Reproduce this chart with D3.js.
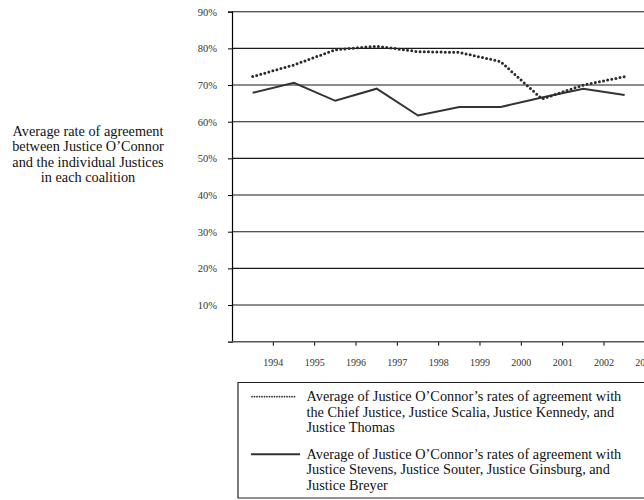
<!DOCTYPE html>
<html>
<head>
<meta charset="utf-8">
<script src="https://cdn.jsdelivr.net/npm/d3@7/dist/d3.min.js"></script>
<style>
  html, body { margin: 0; padding: 0; background: #fff; }
  svg { display: block; font-family: "Liberation Serif", "DejaVu Serif", serif; }
</style>
</head>
<body>
<svg id="chart" width="644" height="500"></svg>
<script>
const years = ["1994","1995","1996","1997","1998","1999","2000","2001","2002","2003"];
const conservative = [72.3, 75.5, 79.6, 80.6, 79.1, 78.9, 76.4, 66.2, 70.0, 72.3];
const liberal = [67.9, 70.6, 65.7, 69.0, 61.7, 64.0, 64.0, 66.6, 69.0, 67.3];
const yTicks = [10, 20, 30, 40, 50, 60, 70, 80, 90];
const titleLines = ["Average rate of agreement", "between Justice O\u2019Connor", "and the individual Justices", "in each coalition"];
const legendConservative = ["Average of Justice O\u2019Connor\u2019s rates of agreement with", "the Chief Justice, Justice Scalia, Justice Kennedy, and", "Justice Thomas"];
const legendLiberal = ["Average of Justice O\u2019Connor\u2019s rates of agreement with", "Justice Stevens, Justice Souter, Justice Ginsburg, and", "Justice Breyer"];

(function () {
const svg = d3.select("#chart");
const pl = 232, pr = 645.3, pt = 11.7, pb = 341.7;

const x = d3.scaleBand().domain(years).range([pl, pr]).paddingInner(0).paddingOuter(0);
const y = d3.scaleLinear().domain([0, 90]).range([pb, pt]);

// fit a text block's font size so its first line has the given width
function fit(textSel, targetWidth, base) {
  textSel.attr("font-size", base);
  const w = textSel.select("tspan").node().getComputedTextLength();
  textSel.attr("font-size", base * targetWidth / w);
}

// gridlines
svg.append("g").selectAll("line").data(yTicks).join("line")
  .attr("x1", pl).attr("x2", 644)
  .attr("y1", d => y(d)).attr("y2", d => y(d))
  .attr("stroke", "#1a1a1a").attr("stroke-width", 1.1);

// y axis
const yAxis = svg.append("g").attr("transform", `translate(${pl},0)`)
  .call(d3.axisLeft(y).tickValues(yTicks).tickSize(4).tickPadding(11).tickFormat(d => d + "%"));
yAxis.select(".domain").attr("stroke", "#000").attr("stroke-width", 1.2);
yAxis.selectAll(".tick line").attr("stroke", "#000");
yAxis.selectAll("text").attr("font-size", 10.5).attr("fill", "#333")
  .attr("font-family", "Liberation Serif, serif");

// x axis (labels at band boundaries)
const xAxis = svg.append("g").attr("transform", `translate(${x.bandwidth()/2},${pb})`)
  .call(d3.axisBottom(x).tickSize(4).tickSizeOuter(0).tickPadding(13));
xAxis.select(".domain").remove();
xAxis.selectAll(".tick line").attr("stroke", "#000");
xAxis.selectAll("text").attr("font-size", 10).attr("fill", "#333")
  .attr("font-family", "Liberation Serif, serif");
svg.append("line").attr("x1", pl).attr("x2", 644).attr("y1", pb).attr("y2", pb)
  .attr("stroke", "#555").attr("stroke-width", 1.6);

// lines
const cx = (d, i) => x(years[i]) + x.bandwidth() / 2;
const lineGen = d3.line().x(cx).y(d => y(d));
svg.append("path").datum(liberal).attr("d", lineGen)
  .attr("fill", "none").attr("stroke", "#333").attr("stroke-width", 2).attr("stroke-linejoin", "miter");
svg.append("path").datum(conservative).attr("d", lineGen)
  .attr("fill", "none").attr("stroke", "#2a2a2a").attr("stroke-width", 3)
  .attr("stroke-linecap", "round").attr("stroke-dasharray", "0,4.2");

// left title
const title = svg.append("text").attr("text-anchor", "middle").attr("fill", "#111");
title.selectAll("tspan").data(titleLines).join("tspan")
  .attr("x", 88).attr("y", (d, i) => 136 + i * 15.3).text(d => d);
fit(title, 151, 13);

// legend
svg.append("path").attr("d", `M644,382.5 H238 V498 H644`).attr("fill", "none")
  .attr("stroke", "#222").attr("stroke-width", 1.2);
svg.append("line").attr("x1", 252).attr("x2", 297).attr("y1", 396.7).attr("y2", 396.7)
  .attr("stroke", "#333").attr("stroke-width", 1.8).attr("stroke-linecap", "round").attr("stroke-dasharray", "0,2.5");
svg.append("line").attr("x1", 251).attr("x2", 300).attr("y1", 454.3).attr("y2", 454.3)
  .attr("stroke", "#333").attr("stroke-width", 2);
const lg1 = svg.append("text").attr("fill", "#111");
lg1.selectAll("tspan").data(legendConservative).join("tspan")
  .attr("x", 306.5).attr("y", (d, i) => 401 + i * 15.5).text(d => d);
fit(lg1, 315, 13);
const lg2 = svg.append("text").attr("fill", "#111");
lg2.selectAll("tspan").data(legendLiberal).join("tspan")
  .attr("x", 306.5).attr("y", (d, i) => 458.5 + i * 15.5).text(d => d);
fit(lg2, 315, 13);
})();
</script>
</body>
</html>
